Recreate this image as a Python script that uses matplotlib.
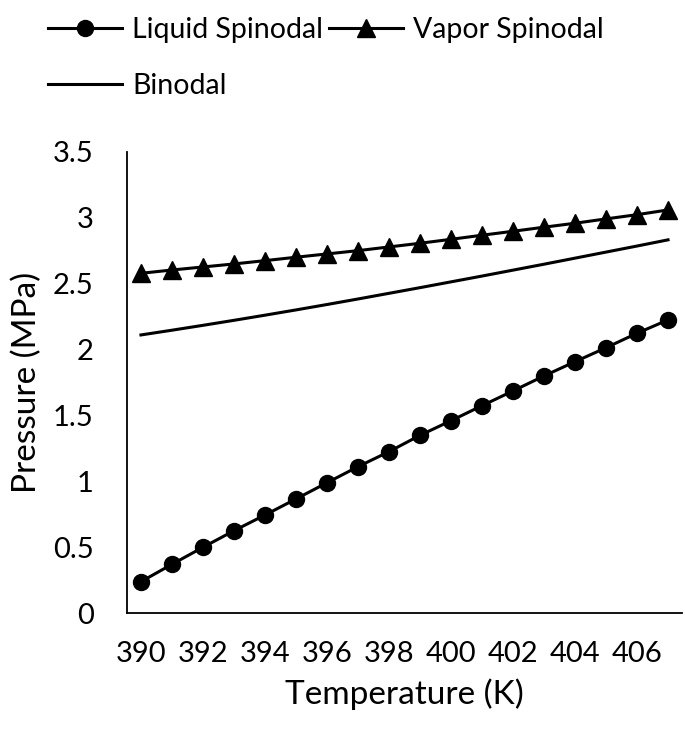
import numpy as np
import matplotlib.pyplot as plt
from matplotlib.ticker import FuncFormatter

plt.rcParams['font.family'] = ['Lato', 'DejaVu Sans']

temperature = np.arange(390, 408)

liquid_spinodal = [0.238, 0.370, 0.499, 0.625, 0.744, 0.866, 0.989, 1.111, 1.225,
                   1.349, 1.460, 1.574, 1.686, 1.800, 1.908, 2.014, 2.124, 2.225]
vapor_spinodal = [2.579, 2.604, 2.627, 2.650, 2.675, 2.701, 2.726, 2.751, 2.779,
                  2.807, 2.837, 2.868, 2.898, 2.929, 2.959, 2.992, 3.024, 3.060]
binodal = [2.111, 2.147, 2.184, 2.222, 2.261, 2.301, 2.342, 2.384, 2.427,
           2.470, 2.514, 2.558, 2.603, 2.648, 2.694, 2.740, 2.786, 2.833]

x_ticks = np.arange(390, 407, 2)
y_ticks = np.arange(0, 3.51, 0.5)

fig = plt.figure(figsize=(6.85, 7.37), dpi=100)
ax = fig.add_axes([0.1854, 0.1682, 0.8102, 0.6256])

l1, = ax.plot(temperature, liquid_spinodal, color='black', lw=2.2,
              marker='o', markersize=11.5, label='Liquid Spinodal')
l2, = ax.plot(temperature, vapor_spinodal, color='black', lw=2.2,
              marker='^', markersize=12.5, label='Vapor Spinodal')
l3, = ax.plot(temperature, binodal, color='black', lw=2.2, label='Binodal')

ax.set_xlim(389.55, 407.45)
ax.set_ylim(0, 3.5)
ax.set_xticks(x_ticks)
ax.set_yticks(y_ticks)
ax.yaxis.set_major_formatter(FuncFormatter(lambda v, p: '%g' % v))
ax.tick_params(length=0, labelsize=21)
ax.tick_params(axis='y', pad=24)
ax.tick_params(axis='x', pad=20)

for side in ['top', 'right']:
    ax.spines[side].set_visible(False)
for side in ['left', 'bottom']:
    ax.spines[side].set_linewidth(1.3)

ax.set_xlabel('Temperature (K)', fontsize=24, labelpad=8)
ax.set_ylabel('Pressure (MPa)', fontsize=24, labelpad=8)

fig.legend(handles=[l1, l3, l2], ncol=2, loc='upper left',
           bbox_to_anchor=(0.045, 1.0), frameon=False, fontsize=20.5,
           handlelength=2.6, handletextpad=0.35, columnspacing=0.2,
           labelspacing=1.05, borderaxespad=0.2)

fig.savefig('out.png', dpi=100)
